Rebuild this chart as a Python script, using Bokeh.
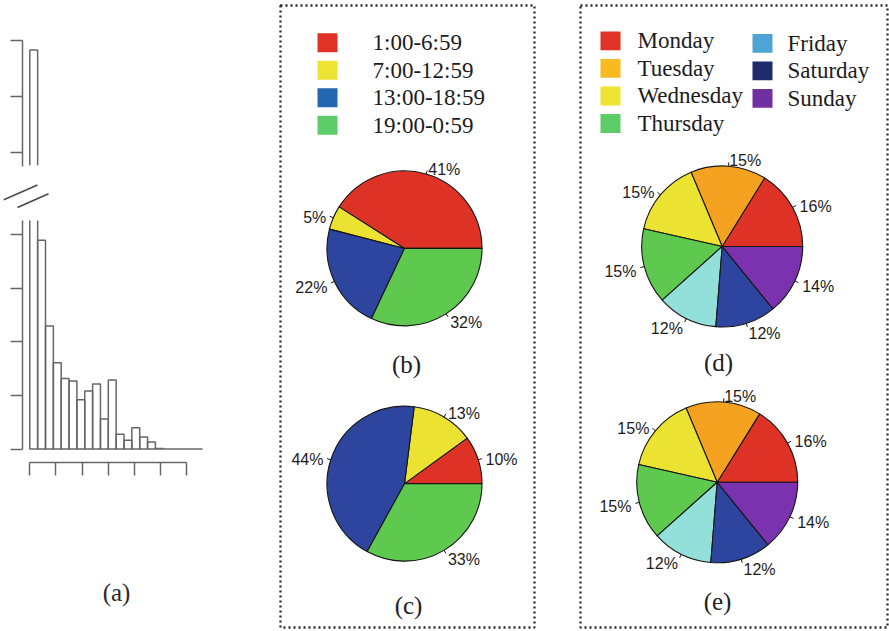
import numpy as np
from bokeh.plotting import figure
from bokeh.models import ColumnDataSource, Range1d, LinearAxis, FixedTicker, Label
from bokeh.layouts import row
from bokeh.embed import file_html
from bokeh.resources import INLINE
from bokeh.core.properties import value

# ---------------- data ----------------
# (a) histogram: counts per 3-unit bin, shown on a broken y axis
bin_width = 3
bin_counts = [4920, 1950, 1150, 805, 660, 635, 460, 543, 607, 282,
              644, 138, 83, 200, 113, 67, 6, 0, 0, 0, 0, 0]
x_ticks = [0, 10, 20, 30, 40, 50, 60]
lower_ticks = [0, 500, 1000, 1500, 2000]
upper_ticks = [4000, 4500, 5000]

# (b), (c): share by time of day
hour_labels = ["1:00-6:59", "7:00-12:59", "13:00-18:59", "19:00-0:59"]
hour_share_b = [41, 5, 22, 32]
hour_share_c = [10, 13, 44, 33]
hour_pie_colors = ["#DF3226", "#ECE232", "#2E45A0", "#5FC84E"]
hour_key_colors = ["#E03226", "#EDE333", "#2267B0", "#5FCC6A"]

# (d), (e): share by day of week
day_labels = ["Monday", "Tuesday", "Wednesday", "Thursday",
              "Friday", "Saturday", "Sunday"]
day_share_d = [16, 15, 15, 15, 12, 12, 14]
day_share_e = [16, 15, 15, 15, 12, 12, 14]
day_pie_colors = ["#DF3226", "#F5A220", "#ECE232", "#5FC84E",
                  "#93E0DA", "#2E45A0", "#7A32AE"]
day_key_colors = ["#E03226", "#F8BA20", "#EDE333", "#5FCC6A",
                  "#4EA5D5", "#212A6B", "#7030A0"]

H = 631
SERIF_NAME = "Liberation Serif"
SERIF = value(SERIF_NAME)
SANS = value("Liberation Sans")
INK = "#1c1c1c"


def blank_figure(width, x_range, y_range, **borders):
    p = figure(width=width, height=H, x_range=x_range, y_range=y_range,
               x_axis_location=None, y_axis_location=None,
               toolbar_location=None, output_backend="svg",
               background_fill_color="white", border_fill_color="white",
               **borders)
    p.grid.visible = False
    return p


# ---------------- (a) histogram with broken axis ----------------
WA = 276
GRAY = "#676767"
X0_PX, PX_PER_X = 29.3, 7.85 / bin_width        # screen x of x=0, px per x unit
BASE_PX, PX_PER_LO = 450.0, 54.33 / 500         # lower part: y=0 row, px per count
UP_REF, UP_REF_PX, PX_PER_UP = 4000, 149.0, 56.5 / 500
AXIS_PX = 22.3
LOW_TOP_PX, UP_BOT_PX = 218.0, 163.0


def ax_x(px):
    return (px - X0_PX) / PX_PER_X


def lo_y(py):
    return (BASE_PX - py) / PX_PER_LO


def up_y(py):
    return UP_REF + (UP_REF_PX - py) / PX_PER_UP


pa = blank_figure(WA, Range1d(ax_x(0), ax_x(WA)), Range1d(lo_y(H), lo_y(0)),
                  min_border=0)
pa.outline_line_color = None
pa.extra_y_ranges = {"upper": Range1d(up_y(H), up_y(0))}

edges = np.arange(len(bin_counts) + 1) * bin_width
counts = np.array(bin_counts, dtype=float)
lower_cap = lo_y(190)
upper_floor = up_y(UP_BOT_PX)

pa.quad(left=edges[:-1], right=edges[1:], bottom=0,
        top=np.minimum(counts, lower_cap),
        fill_color=None, line_color=GRAY, line_width=1.5)
tall = counts > upper_floor
pa.quad(left=edges[:-1][tall], right=edges[1:][tall], bottom=up_y(178),
        top=counts[tall], y_range_name="upper",
        fill_color=None, line_color=GRAY, line_width=1.5)

# gap between the two parts of the axis, and the break marks
pa.quad(left=ax_x(0), right=ax_x(WA), bottom=lo_y(LOW_TOP_PX),
        top=lo_y(UP_BOT_PX - 1), fill_color="white", line_color=None)
pa.segment(x0=[ax_x(3.3), ax_x(17)], y0=[lo_y(197), lo_y(205)],
           x1=[ax_x(37), ax_x(48)], y1=[lo_y(182), lo_y(191)],
           line_color="#4a4a4a", line_width=1.6)


def style_axis(a, tick_out):
    a.axis_line_color = GRAY
    a.axis_line_width = 1.5
    a.major_tick_line_color = GRAY
    a.major_tick_line_width = 1.5
    a.major_tick_in = 0
    a.major_tick_out = tick_out
    a.minor_tick_line_color = None
    a.major_label_text_color = None


y_low = LinearAxis(ticker=FixedTicker(ticks=lower_ticks),
                   bounds=(0, lo_y(LOW_TOP_PX)), fixed_location=ax_x(AXIS_PX))
style_axis(y_low, 12)
pa.add_layout(y_low, "left")

y_up = LinearAxis(y_range_name="upper", ticker=FixedTicker(ticks=upper_ticks),
                  bounds=(upper_floor, upper_ticks[-1]),
                  fixed_location=ax_x(AXIS_PX))
style_axis(y_up, 12)
pa.add_layout(y_up, "left")

x_ax = LinearAxis(ticker=FixedTicker(ticks=x_ticks),
                  bounds=(x_ticks[0], x_ticks[-1]), fixed_location=lo_y(464))
style_axis(x_ax, 13)
pa.add_layout(x_ax, "below")

pa.add_layout(Label(x=ax_x(116), y=lo_y(596), text="(a)", text_font=SERIF_NAME,
                    text_font_size="25px", text_color="#2a2a2a",
                    text_align="center", text_baseline="middle"))


# ---------------- pies ----------------
def draw_pie(p, cx, cy, r, shares, colors):
    shares = np.array(shares, dtype=float)
    frac = shares / shares.sum()
    ends = np.cumsum(frac) * 2 * np.pi
    starts = ends - frac * 2 * np.pi
    src = ColumnDataSource(dict(start=starts, end=ends, color=colors))
    p.wedge(x=cx, y=cy, radius=r, start_angle="start", end_angle="end",
            fill_color="color", line_color="#151515", line_width=1.1,
            line_join="round", source=src)
    mid = (starts + ends) / 2
    c, s = np.cos(mid), np.sin(mid)
    p.segment(x0=cx + r * c, y0=cy + r * s, x1=cx + 1.05 * r * c,
              y1=cy + 1.05 * r * s, line_color="#151515", line_width=1)
    texts = np.array([f"{int(v)}%" for v in shares])
    lx, ly = cx + 1.1 * r * c, cy + 1.1 * r * s
    for mask, align in ((c >= 0, "left"), (c < 0, "right")):
        p.text(x=lx[mask], y=ly[mask], text=list(texts[mask]), text_font=SANS,
               text_font_size="16px", text_color=INK, text_align=align,
               text_baseline="middle", y_offset=2.5)


def draw_key(p, xs_sw, xs_txt, ys, labels, colors):
    p.rect(x=xs_sw, y=ys, width=20, height=19, fill_color=colors,
           line_color=None)
    p.text(x=xs_txt, y=ys, text=labels, text_font=SERIF,
           text_font_size="23px", text_color=INK, text_align="left",
           text_baseline="middle")


def caption(p, x, y, txt):
    p.add_layout(Label(x=x, y=y, text=txt, text_font=SERIF_NAME,
                       text_font_size="25px", text_color="#222222",
                       text_align="center", text_baseline="middle"))


def dotted_frame(p):
    p.outline_line_color = "#2a2a2a"
    p.outline_line_width = 2.3
    p.outline_line_dash = "2 3"


# ---------------- (b), (c) ----------------
BL, BT = 280, 3      # page position of the box's top-left corner
BW, BH = 254, 624
pb = blank_figure(302, Range1d(0, BW), Range1d(0, BH),
                  min_border_left=4, min_border_right=44,
                  min_border_top=3, min_border_bottom=4)
dotted_frame(pb)


def bx(px):
    return px - BL


def by(py):
    return BT + BH - py


rows_b = [by(40.3 + 27.6 * i) for i in range(len(hour_labels))]
draw_key(pb, [bx(327)] * len(hour_labels), [bx(372)] * len(hour_labels),
         rows_b, hour_labels, hour_key_colors)
draw_pie(pb, bx(404), by(246.7), 77.5, hour_share_b, hour_pie_colors)
draw_pie(pb, bx(404), by(482.7), 77.5, hour_share_c, hour_pie_colors)
caption(pb, bx(406), by(363), "(b)")
caption(pb, bx(408), by(605), "(c)")

# ---------------- (d), (e) ----------------
DL, DT = 580, 5
DW, DH = 307, 624
pd = blank_figure(311, Range1d(0, DW), Range1d(0, DH),
                  min_border_left=2, min_border_right=2,
                  min_border_top=5, min_border_bottom=2)
dotted_frame(pd)


def dx(px):
    return px - DL


def dy(py):
    return DT + DH - py


cols = [i // 4 for i in range(len(day_labels))]
rws = [i % 4 for i in range(len(day_labels))]
draw_key(pd, [dx([610, 762][c]) for c in cols], [dx([637, 787][c]) for c in cols],
         [dy(40.5 + 27.6 * r + 2.5 * c) for r, c in zip(rws, cols)],
         day_labels, day_key_colors)
draw_pie(pd, dx(721.7), dy(246.7), 80.5, day_share_d, day_pie_colors)
draw_pie(pd, dx(716.7), dy(483.3), 80.5, day_share_e, day_pie_colors)
caption(pd, dx(718), dy(363), "(d)")
caption(pd, dx(717), dy(603), "(e)")

layout = row(pa, pb, pd)
open("out.html", "w").write(file_html(layout, INLINE))
